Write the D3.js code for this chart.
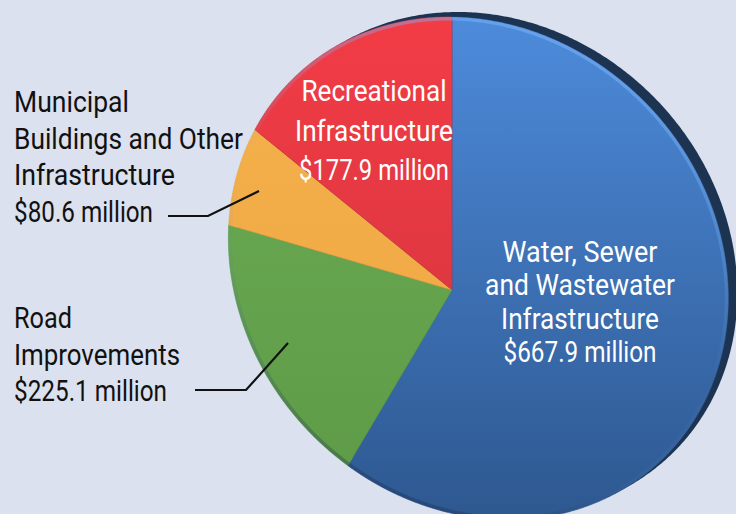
<!DOCTYPE html>
<html><head><meta charset="utf-8">
<script src="https://cdn.jsdelivr.net/npm/d3@7"></script>
<style>html,body{margin:0;padding:0;background:#dbe1ee;} svg{display:block}</style>
</head><body>
<svg id="c" width="736" height="514"></svg>
<script>
// ---- data ----
const categories = ["Water, Sewer and Wastewater Infrastructure", "Road Improvements", "Municipal Buildings and Other Infrastructure", "Recreational Infrastructure"];
const values = [667.9, 225.1, 80.6, 177.9];
const valueLabels = ["$667.9 million", "$225.1 million", "$80.6 million", "$177.9 million"];
const labelLines = [
  ["Water, Sewer", "and Wastewater", "Infrastructure"],
  ["Road", "Improvements"],
  ["Municipal", "Buildings and Other", "Infrastructure"],
  ["Recreational", "Infrastructure"]
];

// ---- style / layout ----
const W = 736, H = 514;
const sliceColors = [["#4d8bdb", "#2e5890"], ["#6cad54", "#5e9a47"], ["#f5b24b", "#eda443"], ["#f23c46", "#cf333d"]];
// rendered width of each label line (condensed type)
const lineWidths = [[155, 190, 158, 153], [58, 166, 153], [115, 229, 161, 139], [145, 158, 150]];
const labelLayout = [
  {x: 580, y: 262, dy: 33.3, anchor: "middle", color: "#ffffff"},
  {x: 14, y: 328, dy: 36.5, anchor: "start", color: "#111111"},
  {x: 14, y: 112, dy: 36.7, anchor: "start", color: "#111111"},
  {x: 374, y: 101, dy: 39.5, anchor: "middle", color: "#ffffff"}
];

const svg = d3.select("#c");
svg.append("rect").attr("width", W).attr("height", H).attr("fill", "#dbe1ee");

// perspective (projective) mapping of a flat unit disc
const apex = [452, 290];
const P = {p11: 246, p21: -32, p22: 245.7, a: -0.105, b: -0.10};
function proj(u, v) {
  const D = 1 + P.a * u + P.b * v;
  const x = P.p11 * u / D;
  const y = (P.p21 * u + P.p22 * v) / D;
  return [apex[0] + x, apex[1] - y];
}
const angPt = t => proj(Math.sin(t), Math.cos(t));

const pie = d3.pie().sort(null).value(d => d).startAngle(0).endAngle(2 * Math.PI);
const arcs = pie(values);

function arcPoints(a0, a1) {
  const n = Math.max(2, Math.ceil((a1 - a0) / (Math.PI / 360)));
  return d3.range(n + 1).map(i => angPt(a0 + (a1 - a0) * i / n));
}
const line = d3.line().curve(d3.curveLinear);
const outlinePath = line(arcPoints(0, 2 * Math.PI)) + "Z";

const defs = svg.append("defs");
sliceColors.forEach((c, i) => {
  const g = defs.append("linearGradient").attr("id", "g" + i)
    .attr("gradientUnits", "userSpaceOnUse").attr("x1", 0).attr("y1", 17).attr("x2", 0).attr("y2", 514);
  g.append("stop").attr("offset", 0).attr("stop-color", c[0]);
  g.append("stop").attr("offset", 1).attr("stop-color", c[1]);
});
const rimG = defs.append("linearGradient").attr("id", "rim")
  .attr("gradientUnits", "userSpaceOnUse").attr("x1", 600).attr("y1", 40).attr("x2", 380).attr("y2", 510);
rimG.append("stop").attr("offset", 0).attr("stop-color", "#7db8ff").attr("stop-opacity", 0.55);
rimG.append("stop").attr("offset", 0.5).attr("stop-color", "#7db8ff").attr("stop-opacity", 0.0);
rimG.append("stop").attr("offset", 1).attr("stop-color", "#0b1a33").attr("stop-opacity", 0.35);
defs.append("clipPath").attr("id", "pieClip").append("path").attr("d", outlinePath);

// side / thickness
svg.append("path").attr("d", outlinePath).attr("fill", "#1d3352")
  .attr("transform", "translate(9,-5)");

// slices
svg.append("g").selectAll("path").data(arcs).join("path")
  .attr("d", d => line([apex, ...arcPoints(d.startAngle, d.endAngle)]) + "Z")
  .attr("fill", (d, i) => `url(#g${i})`)
  .attr("stroke", (d, i) => sliceColors[i][1]).attr("stroke-width", 0.6);

// rim bevel
svg.append("path").attr("d", outlinePath).attr("fill", "none")
  .attr("stroke", "url(#rim)").attr("stroke-width", 7).attr("clip-path", "url(#pieClip)");

// ---- labels ----
const fontFam = "Roboto, 'Liberation Sans', sans-serif";
const fs = 29;
labelLines.forEach((lines, i) => {
  const L = labelLayout[i];
  const all = lines.concat([valueLabels[i]]);
  const g = svg.append("g").attr("transform", `translate(${L.x},${L.y})`);
  g.selectAll("text").data(all).join("text")
    .attr("x", 0).attr("y", (d, j) => j * L.dy)
    .attr("text-anchor", L.anchor)
    .attr("font-family", fontFam).attr("font-size", fs)
    .attr("textLength", (d, j) => lineWidths[i][j])
    .attr("lengthAdjust", "spacingAndGlyphs")
    .attr("fill", L.color).text(d => d);
});

// leader lines
const leaders = [
  [[195, 390], [246, 390], [288, 343]],
  [[168, 216], [208, 216], [259, 191]]
];
svg.append("g").selectAll("path").data(leaders).join("path")
  .attr("d", d => d3.line()(d)).attr("fill", "none")
  .attr("stroke", "#111").attr("stroke-width", 2.2);
</script>
</body></html>
